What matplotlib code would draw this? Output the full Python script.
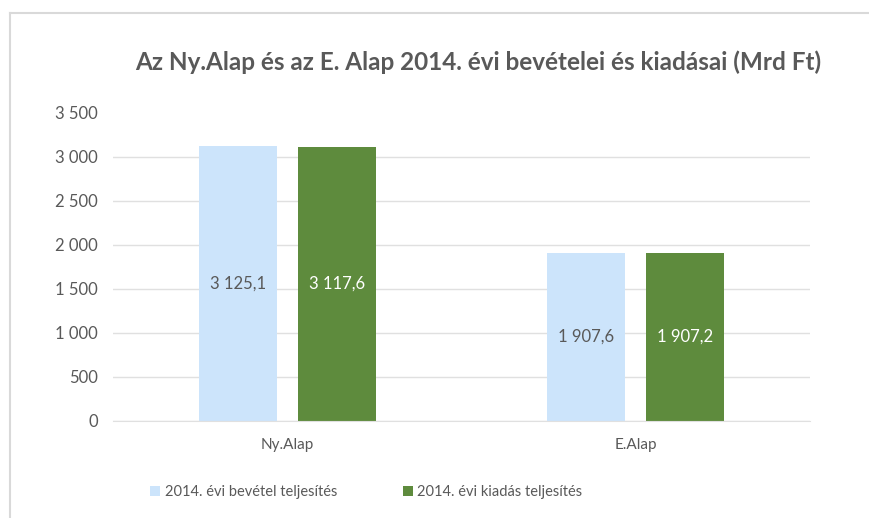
import matplotlib
matplotlib.use("Agg")
import matplotlib.pyplot as plt
import numpy as np
from matplotlib.lines import Line2D
from matplotlib.ticker import FuncFormatter

# Data
categories = ["Ny.Alap", "E.Alap"]
bevetel = [3125.1, 1907.6]
kiadas = [3117.6, 1907.2]
series_names = ["2014. évi bevétel teljesítés", "2014. évi kiadás teljesítés"]
title = "Az Ny.Alap és az E. Alap 2014. évi bevételei és kiadásai (Mrd Ft)"

plt.rcParams["font.family"] = ["Lato", "DejaVu Sans"]

BLUE = "#CCE4FB"
GREEN = "#5E8B3D"
TEXT = "#595959"
GRID = "#E0E0E0"


def hu_num(v, decimals=0):
    s = f"{v:,.{decimals}f}"
    return s.replace(",", " ").replace(".", ",")


fig = plt.figure(figsize=(8.7, 5.18), dpi=100)
ax = fig.add_axes([0.1299, 0.1873, 0.8011, 0.5946])

x = np.arange(len(categories))
w = 0.224
off = 0.142
b1 = ax.bar(x - off, bevetel, w, color=BLUE, label=series_names[0])
b2 = ax.bar(x + off, kiadas, w, color=GREEN, label=series_names[1])

# data labels in the middle of the bars
for bar, v in zip(b1, bevetel):
    ax.text(bar.get_x() + bar.get_width() / 2, v / 2, hu_num(v, 1),
            ha="center", va="center", fontsize=12, color=TEXT)
for bar, v in zip(b2, kiadas):
    ax.text(bar.get_x() + bar.get_width() / 2, v / 2, hu_num(v, 1),
            ha="center", va="center", fontsize=12, color="white")

ax.set_xlim(-0.5, 1.5)
ax.set_ylim(0, 3500)
ax.set_yticks(np.arange(0, 3501, 500))
ax.yaxis.set_major_formatter(FuncFormatter(lambda v, p: hu_num(v)))
ax.set_xticks(x)
ax.set_xticklabels(categories)
ax.tick_params(axis="both", length=0, labelsize=12, labelcolor=TEXT)
ax.tick_params(axis="x", labelsize=11, pad=12)
ax.tick_params(axis="y", pad=11)

ax.grid(axis="y", color=GRID, linewidth=1)
ax.set_axisbelow(True)
# no gridline at the top (3 500) in the original
ax.get_ygridlines()[-1].set_visible(False)
for s in ["top", "right", "left"]:
    ax.spines[s].set_visible(False)
ax.spines["bottom"].set_color(GRID)

fig.text(0.55, 0.88, title, ha="center", va="center", fontsize=17.5,
         fontweight="bold", color=TEXT)

leg = fig.legend(handles=[b1, b2], loc="center", bbox_to_anchor=(0.421, 0.05),
                 ncol=2, frameon=False, fontsize=10.5, handlelength=0.7,
                 handleheight=0.7, handletextpad=0.3, columnspacing=4.5)
for t in leg.get_texts():
    t.set_color(TEXT)

# chart frame (left and top edges visible)
fig.add_artist(Line2D([10 / 870, 10 / 870], [0, 1 - 13 / 518], color="#D9D9D9",
                      linewidth=1.5, transform=fig.transFigure))
fig.add_artist(Line2D([10 / 870, 1], [1 - 13 / 518, 1 - 13 / 518], color="#D9D9D9",
                      linewidth=1.5, transform=fig.transFigure))

fig.savefig("out.png", dpi=100)
